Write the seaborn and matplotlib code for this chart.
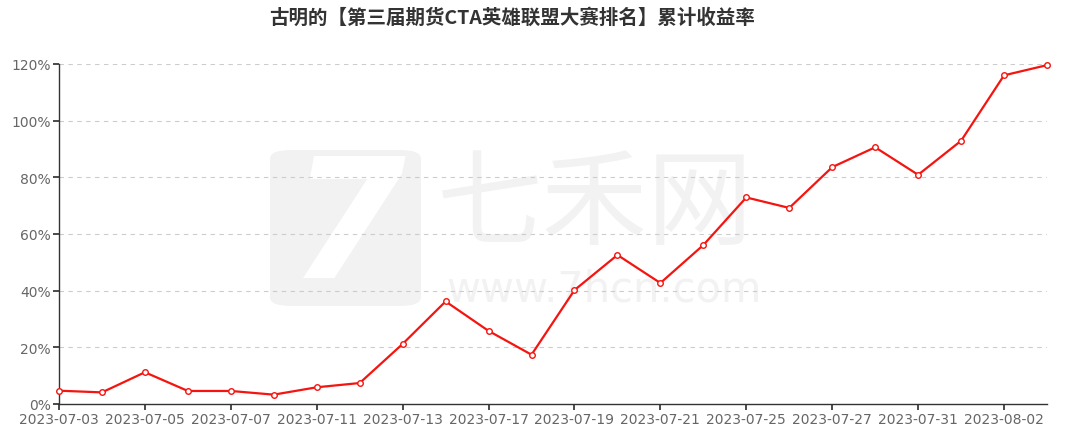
import matplotlib
matplotlib.use("Agg")
import matplotlib.pyplot as plt
import seaborn as sns
import pandas as pd
from matplotlib.patches import FancyBboxPatch

dates = ["2023-07-03", "2023-07-04", "2023-07-05", "2023-07-06", "2023-07-07",
         "2023-07-10", "2023-07-11", "2023-07-12", "2023-07-13", "2023-07-14",
         "2023-07-17", "2023-07-18", "2023-07-19", "2023-07-20", "2023-07-21",
         "2023-07-24", "2023-07-25", "2023-07-26", "2023-07-27", "2023-07-28",
         "2023-07-31", "2023-08-01", "2023-08-02", "2023-08-03"]
returns = [4.7, 4.1, 11.2, 4.6, 4.6, 3.3, 5.9, 7.4, 21.2, 36.2,
           25.8, 17.4, 40.2, 52.6, 42.7, 56.1, 72.9, 69.2, 83.6, 90.6,
           80.9, 92.9, 116.0, 119.6]
y_ticks = [0, 20, 40, 60, 80, 100, 120]
title = "古明的【第三届期货CTA英雄联盟大赛排名】累计收益率"

sns.set_theme(style="white")
plt.rcParams['font.family'] = ['Noto Sans CJK SC', 'DejaVu Sans']

df = pd.DataFrame({"x": range(len(dates)), "y": returns})

W, H = 1067, 431
fig = plt.figure(figsize=(W / 100, H / 100), dpi=100)

# watermark (behind the axes)
wm = "#f2f2f2"
logo = FancyBboxPatch((270 / W, 1 - 307 / H), 151 / W, 156 / H,
                      boxstyle="round,pad=0,rounding_size=0.02",
                      transform=fig.transFigure, facecolor=wm, edgecolor="none", zorder=-5)
fig.patches.append(logo)
fig.text(348 / W, 1 - 232 / H, "7", fontsize=120, fontweight="bold", fontstyle="italic",
         color="white", ha="center", va="center", zorder=-4, family="DejaVu Sans")
fig.text(595 / W, 1 - 207 / H, "七禾网", fontsize=76, color=wm, ha="center", va="center",
         zorder=-4)
fig.text(604 / W, 1 - 289 / H, "www.7hcn.com", fontsize=30, color=wm, ha="center",
         va="center", zorder=-4, family="DejaVu Sans")

ax = fig.add_axes([59 / W, 1 - 405 / H, (1047 - 59) / W, (405 - 65) / H])
ax.patch.set_alpha(0)

sns.lineplot(data=df, x="x", y="y", ax=ax, color="#f5140f", linewidth=1.6,
             marker="o", markersize=4, markerfacecolor="white",
             markeredgecolor="#f5140f", markeredgewidth=1, zorder=3, clip_on=False)

ax.set_xlim(0, len(dates) - 1)
ax.set_ylim(0, 120)
ax.set_yticks(y_ticks)
ax.set_yticklabels([f"{v}%" for v in y_ticks], color="#666666", fontsize=10,
                   family="DejaVu Sans")
ax.set_xticks(range(0, len(dates), 2))
ax.set_xticklabels([dates[i] for i in range(0, len(dates), 2)], color="#666666",
                   fontsize=10, family="DejaVu Sans")
ax.set_xlabel("")
ax.set_ylabel("")

for v in y_ticks[1:]:
    ax.axhline(v, color="#cccccc", linestyle=(0, (4, 4)), linewidth=0.8, zorder=1)

for s in ["top", "right"]:
    ax.spines[s].set_visible(False)
for s in ["left", "bottom"]:
    ax.spines[s].set_visible(True)
    ax.spines[s].set_color("#333333")
    ax.spines[s].set_linewidth(1)

ax.tick_params(axis="x", which="both", bottom=True, length=4, color="#333333", pad=2)
ax.tick_params(axis="y", which="both", left=True, length=4, color="#333333", pad=2)

fig.text(512 / W, 1 - 18 / H, title, fontsize=14, fontweight="bold", color="#333333",
         ha="center", va="center")

fig.savefig("out.png", dpi=100)
